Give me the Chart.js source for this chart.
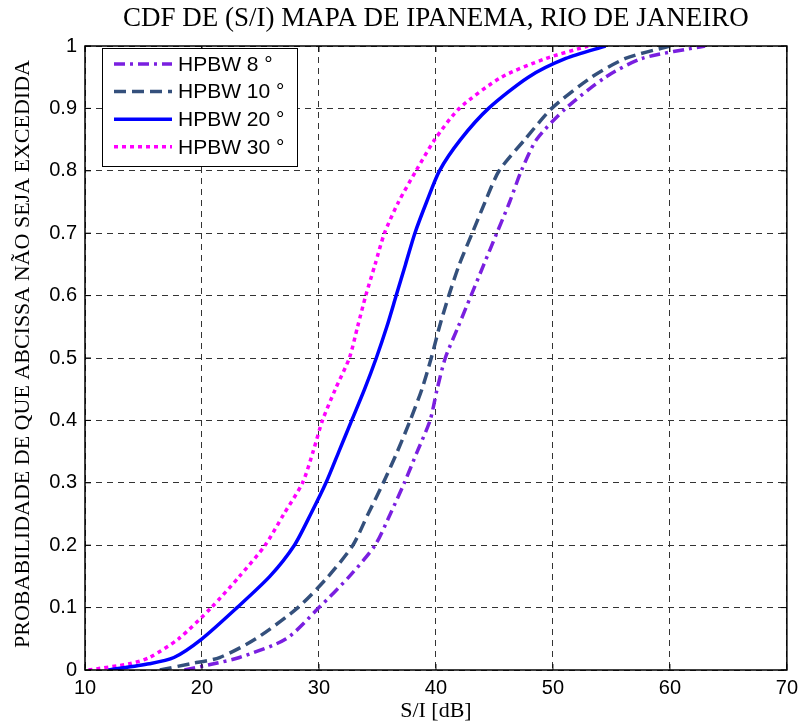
<!DOCTYPE html>
<html>
<head>
<meta charset="utf-8">
<script src="https://cdn.jsdelivr.net/npm/chart.js@4"></script>
<style>
  body { margin: 0; background: #fff; }
  #wrap { width: 804px; height: 725px; }
</style>
</head>
<body>
<div id="wrap"><canvas id="cdf-chart"></canvas></div>
<script>
"use strict";

const cdfLevels = [0, 0.01, 0.02, 0.05, 0.1, 0.15, 0.2, 0.25, 0.3, 0.35, 0.4, 0.45, 0.5,
                   0.55, 0.6, 0.65, 0.7, 0.75, 0.8, 0.85, 0.9, 0.95, 0.98, 1];

// S/I [dB] em cada nível
const hpbw8  = [18.5, 21.0, 23.2, 27.2, 30.0, 32.6, 34.8, 36.1, 37.3, 38.4, 39.5, 40.1, 40.8,
                41.9, 43.0, 44.1, 45.2, 46.3, 47.3, 48.6, 51.1, 54.5, 57.6, 63.0];
const hpbw10 = [16.4, 19.0, 21.5, 24.6, 28.2, 30.8, 32.9, 34.2, 35.5, 36.7, 37.8, 38.8, 39.6,
                40.3, 41.1, 42.0, 43.1, 44.2, 45.4, 47.6, 49.9, 53.3, 56.2, 60.0];
const hpbw20 = [12.0, 15.5, 17.6, 20.0, 23.0, 25.8, 27.9, 29.3, 30.6, 31.7, 32.8, 33.9, 34.9,
                35.8, 36.6, 37.4, 38.2, 39.2, 40.3, 42.1, 44.5, 47.9, 51.1, 54.5];
const hpbw30 = [10.3, 13.8, 15.5, 18.0, 20.8, 23.2, 25.4, 27.0, 28.6, 29.5, 30.3, 31.4, 32.6,
                33.3, 34.0, 34.8, 35.6, 36.8, 38.3, 39.9, 42.0, 45.6, 49.4, 53.0];

const seriesNames = ["HPBW 8 °", "HPBW 10 °", "HPBW 20 °", "HPBW 30 °"];
const xTicks = [10, 20, 30, 40, 50, 60, 70];

const serifFont = '"Liberation Serif", "Times New Roman", serif';
const sansFont = '"Liberation Sans", Arial, sans-serif';

function toPoints(xs) {
    return xs.map((x, i) => ({ x: x, y: cdfLevels[i] }));
}

const styles = [
    { color: "#7a1fe0", dash: [11, 5, 3, 5] },
    { color: "#34507c", dash: [12, 6] },
    { color: "#0000ff", dash: [] },
    { color: "#ff00ff", dash: [4, 4] }
];

const allSeries = [hpbw8, hpbw10, hpbw20, hpbw30];

// titulos, legenda e moldura estilo MATLAB
const matlabDecor = {
    id: "matlabDecor",
    afterDatasetsDraw(chart) {
        const { ctx, chartArea: a, scales } = chart;
        ctx.save();

        // moldura
        ctx.setLineDash([]);
        ctx.strokeStyle = "#000";
        ctx.lineWidth = 1.5;
        ctx.strokeRect(a.left, a.top, a.right - a.left, a.bottom - a.top);

        // marcas de escala para dentro
        ctx.lineWidth = 1;
        xTicks.forEach(v => {
            const px = scales.x.getPixelForValue(v);
            ctx.beginPath();
            ctx.moveTo(px, a.bottom); ctx.lineTo(px, a.bottom - 6);
            ctx.moveTo(px, a.top); ctx.lineTo(px, a.top + 6);
            ctx.stroke();
        });
        for (let i = 0; i <= 10; i++) {
            const py = scales.y.getPixelForValue(i / 10);
            ctx.beginPath();
            ctx.moveTo(a.left, py); ctx.lineTo(a.left + 6, py);
            ctx.moveTo(a.right, py); ctx.lineTo(a.right - 6, py);
            ctx.stroke();
        }

        // legenda
        const lx = 102, ly = 48, lw = 195, lh = 118;
        ctx.fillStyle = "#fff";
        ctx.fillRect(lx, ly, lw, lh);
        ctx.strokeStyle = "#000";
        ctx.strokeRect(lx + 0.5, ly + 0.5, lw, lh);
        ctx.font = "21px " + sansFont;
        ctx.textBaseline = "middle";
        ctx.textAlign = "left";
        seriesNames.forEach((name, i) => {
            const yy = 64 + i * 27.6;
            ctx.strokeStyle = styles[i].color;
            ctx.lineWidth = 3.5;
            ctx.setLineDash(styles[i].dash);
            ctx.beginPath();
            ctx.moveTo(114, yy); ctx.lineTo(172, yy);
            ctx.stroke();
            ctx.setLineDash([]);
            ctx.fillStyle = "#000";
            ctx.fillText(name, 178, yy + 1);
        });

        // titulos
        const cx = (a.left + a.right) / 2;
        ctx.fillStyle = "#000";
        ctx.textAlign = "center";
        ctx.font = "27px " + serifFont;
        ctx.fillText("CDF DE (S/I) MAPA DE IPANEMA, RIO DE JANEIRO", cx, 19);
        ctx.font = "22px " + serifFont;
        ctx.fillText("S/I [dB]", cx, 711);
        ctx.translate(23, (a.top + a.bottom) / 2 - 4);
        ctx.rotate(-Math.PI / 2);
        ctx.fillText("PROBABILIDADE DE QUE ABCISSA NÃO SEJA EXCEDIDA", 0, 0);
        ctx.restore();
    }
};

const ctx = document.getElementById("cdf-chart").getContext("2d");

new Chart(ctx, {
    type: "line",
    data: {
        datasets: allSeries.map((xs, i) => ({
            label: seriesNames[i],
            data: toPoints(xs),
            borderColor: styles[i].color,
            borderDash: styles[i].dash,
            borderWidth: 3.5,
            pointRadius: 0,
            fill: false,
            tension: 0.25
        }))
    },
    options: {
        responsive: true,
        maintainAspectRatio: false,
        animation: false,
        layout: {
            padding: { top: 46, right: 13, left: 0, bottom: 0 }
        },
        plugins: {
            legend: { display: false },
            tooltip: { enabled: false }
        },
        scales: {
            x: {
                type: "linear",
                min: 10,
                max: 70,
                afterBuildTicks: scale => { scale.ticks = xTicks.map(v => ({ value: v })); },
                afterFit: scale => { scale.height = 55; },
                ticks: {
                    color: "#000",
                    padding: 6,
                    font: { size: 20, family: sansFont },
                    maxRotation: 0
                },
                grid: { color: "#333", lineWidth: 1, drawTicks: false },
                border: { display: false, dash: [6, 5] }
            },
            y: {
                min: 0,
                max: 1,
                afterFit: scale => { scale.width = 85; },
                ticks: {
                    stepSize: 0.1,
                    color: "#000",
                    padding: 8,
                    font: { size: 20, family: sansFont },
                    callback: v => String(Math.round(v * 10) / 10)
                },
                grid: { color: "#333", lineWidth: 1, drawTicks: false },
                border: { display: false, dash: [6, 5] }
            }
        }
    },
    plugins: [matlabDecor]
});
</script>
</body>
</html>
